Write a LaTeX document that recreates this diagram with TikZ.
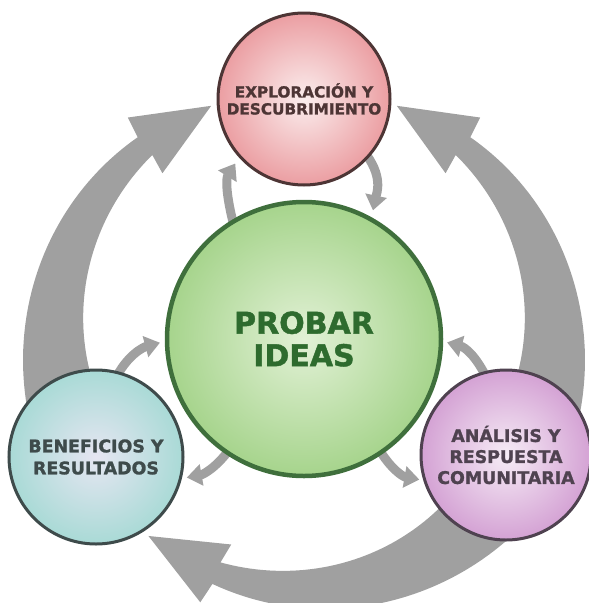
\documentclass[tikz,border=0pt]{standalone}
\usepackage{fontspec}
\setmainfont{DejaVu Sans}[BoldFeatures={FakeBold=1.4}]
\usetikzlibrary{arrows.meta}
\pgfdeclarelayer{back}
\pgfsetlayers{back,main}

\definecolor{arrowgray}{RGB}{160,160,160}
\definecolor{greenin}{RGB}{226,241,214}
\definecolor{greenout}{RGB}{166,212,140}
\definecolor{greenline}{RGB}{63,111,60}
\definecolor{greentext}{RGB}{46,107,46}
\definecolor{pinkin}{RGB}{251,238,238}
\definecolor{pinkout}{RGB}{235,158,162}
\definecolor{pinkline}{RGB}{77,53,53}
\definecolor{tealin}{RGB}{230,230,242}
\definecolor{tealout}{RGB}{169,218,214}
\definecolor{tealline}{RGB}{62,75,75}
\definecolor{mauvein}{RGB}{246,236,246}
\definecolor{mauveout}{RGB}{212,162,212}
\definecolor{mauveline}{RGB}{79,66,80}

% big tapered curved arrow around the hub:
% #1 = angle of the head base, #2 = +1 (head turns counter-clockwise) or -1
\newcommand\cyclearrow[2]{%
  \fill[arrowgray]
    plot[domain=86:0,samples=60] ({-(#1-(#2)*\x)}:{261.5+0.37*\x})
    -- ({-(#1+(#2)*1)}:283) -- ({-(#1+(#2)*17.8)}:251) -- ({-(#1-(#2)*1)}:218)
    -- plot[domain=0:86,samples=60] ({-(#1-(#2)*\x)}:{238.5-0.37*\x})
    -- cycle;}

\tikzset{
  ball/.style={circle, shading=radial, inner sep=0pt, align=center},
  hub/.style={ball, minimum size=274pt, line width=4.5pt, draw=greenline,
    inner color=greenin, outer color=greenout, text=greentext,
    font=\bfseries\fontsize{30}{32.5}\selectfont},
  topball/.style={ball, minimum size=172pt, line width=3pt, draw=pinkline,
    inner color=pinkin, outer color=pinkout, text=pinkline,
    font=\bfseries\fontsize{15.3}{17}\selectfont},
  leftball/.style={ball, minimum size=174pt, line width=3pt, draw=tealline,
    inner color=tealin, outer color=tealout, text=tealline,
    font=\bfseries\fontsize{17.4}{22}\selectfont},
  rightball/.style={ball, minimum size=170pt, line width=3pt, draw=mauveline,
    inner color=mauvein, outer color=mauveout, text=mauveline,
    font=\bfseries\fontsize{17.4}{21}\selectfont},
  loop/.style={draw=arrowgray, line width=9pt, shorten <=-10pt,
    -{Triangle[width=21pt,length=15pt]}}
}

\begin{document}
\begin{tikzpicture}[x=1pt,y=-1pt]
\useasboundingbox (0,0) rectangle (589,603);

\node[hub] (c) at (304,339) {PROBAR\\IDEAS};
\node[topball] (t) at (304,99) {EXPLORACIÓN Y\\DESCUBRIMIENTO};
\node[leftball] (l) at (96,457) {BENEFICIOS Y\\RESULTADOS};
\node[rightball] (r) at (506,455) {ANÁLISIS Y\\RESPUESTA\\COMUNITARIA};

\begin{pgfonlayer}{back}
  % outer cycle
  \begin{scope}[shift={(304,339)}]
    \cyclearrow{129.5}{-1}
    \cyclearrow{50.5}{1}
    \cyclearrow{249.5}{-1}
  \end{scope}
  % hub <-> top
  \draw[loop, shorten >=7pt] (c.121) .. controls +(105:28pt) and +(238:24pt) .. (t.222);
  \draw[loop, shorten >=7pt] (t.318) .. controls +(310:24pt) and +(78:24pt) .. (c.61);
  % hub <-> left
  \draw[loop, shorten >=5pt] (l.75) .. controls +(65:18pt) and +(195:22pt) .. (c.181);
  \draw[loop, shorten >=5pt] (c.236) .. controls +(235:18pt) and +(10:20pt) .. (l.346);
  % hub <-> right
  \draw[loop, shorten >=4pt] (r.105) .. controls +(115:18pt) and +(345:22pt) .. (c.359);
  \draw[loop, shorten >=4pt] (c.304) .. controls +(300:18pt) and +(170:20pt) .. (r.197);
\end{pgfonlayer}
\end{tikzpicture}
\end{document}
